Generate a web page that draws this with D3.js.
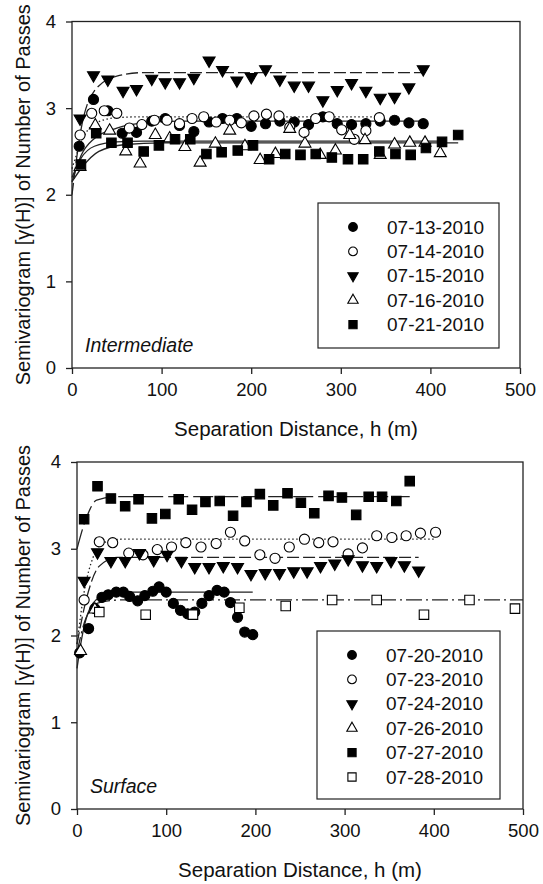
<!doctype html>
<html lang="en">
<head>
  <meta charset="utf-8">
  <title>Semivariograms</title>
  <style>
    body { margin: 0; background: #fff; }
    svg { font-family: "Liberation Sans", Arial, sans-serif; }
    .frame { fill: none; stroke: #222; stroke-width: 1.3; }
    .fit { fill: none; stroke: #222; stroke-width: 1.3; }
    .axis path { display: none; }
    .axis line { stroke: #222; stroke-width: 1.3; }
    .axis text { font-size: 18.5px; fill: #111; }
  </style>
</head>
<body>
  <script src="https://cdn.jsdelivr.net/npm/d3@7"></script>
  <script>

// ---- data: Intermediate panel ----
var xTicks = [0, 100, 200, 300, 400, 500];
var yTicks = [0, 1, 2, 3, 4];

var h_0713 = [8, 24, 40, 56, 72, 89, 104, 120, 136, 153, 168, 184, 200, 216, 232, 248, 264, 280, 296, 312, 328, 344, 360, 376, 392];
var g_0713 = [2.56, 3.10, 2.97, 2.71, 2.72, 2.85, 2.88, 2.80, 2.73, 2.84, 2.88, 2.88, 2.79, 2.82, 2.85, 2.84, 2.81, 2.90, 2.82, 2.81, 2.82, 2.85, 2.86, 2.83, 2.82];

var h_0714 = [9, 22, 36, 50, 64, 78, 92, 106, 120, 134, 147, 161, 176, 189, 203, 217, 231, 243, 259, 272, 287, 301, 315, 328, 343];
var g_0714 = [2.69, 2.94, 2.97, 2.94, 2.77, 2.81, 2.86, 2.86, 2.82, 2.88, 2.90, 2.84, 2.86, 2.83, 2.91, 2.93, 2.91, 2.78, 2.72, 2.88, 2.90, 2.75, 2.64, 2.74, 2.89];

var h_0715 = [9, 24, 40, 57, 72, 89, 104, 120, 136, 153, 168, 184, 200, 216, 232, 248, 264, 280, 296, 312, 328, 344, 360, 376, 392];
var g_0715 = [2.88, 3.38, 3.33, 3.20, 3.22, 3.34, 3.30, 3.30, 3.35, 3.55, 3.44, 3.32, 3.36, 3.45, 3.33, 3.26, 3.26, 3.09, 3.21, 3.29, 3.20, 3.12, 3.13, 3.24, 3.45];

var h_0716 = [9, 26, 42, 60, 76, 93, 109, 126, 143, 160, 176, 193, 210, 227, 243, 260, 277, 294, 310, 327, 344, 360, 377, 394, 411];
var g_0716 = [2.32, 2.80, 2.74, 2.50, 2.36, 2.69, 2.65, 2.55, 2.37, 2.59, 2.74, 2.56, 2.40, 2.47, 2.76, 2.59, 2.46, 2.51, 2.69, 2.63, 2.46, 2.58, 2.60, 2.60, 2.48];

var h_0721 = [10, 27, 44, 62, 80, 97, 115, 132, 150, 167, 185, 202, 220, 238, 255, 272, 290, 308, 325, 343, 361, 378, 395, 413, 431];
var g_0721 = [2.35, 2.71, 2.60, 2.60, 2.50, 2.57, 2.64, 2.64, 2.47, 2.49, 2.51, 2.57, 2.41, 2.47, 2.46, 2.47, 2.43, 2.41, 2.41, 2.50, 2.47, 2.46, 2.54, 2.61, 2.69];

// fitted models as [h, gamma]
var fit_0713 = [[0, 2.15], [10, 2.45], [25, 2.65], [50, 2.77], [80, 2.83], [120, 2.85], [392, 2.85]];
var fit_0714 = [[0, 2.3], [10, 2.6], [25, 2.82], [50, 2.89], [80, 2.9], [343, 2.9]];
var fit_0715 = [[0, 2.0], [10, 2.75], [25, 3.2], [50, 3.37], [80, 3.41], [392, 3.41]];
var fit_0716 = [[0, 2.2], [10, 2.42], [25, 2.56], [50, 2.61], [80, 2.62], [411, 2.62]];
var fit_0721 = [[0, 2.15], [10, 2.3], [30, 2.5], [60, 2.58], [100, 2.6], [431, 2.6]];

// ---- data: Surface panel ----
var h_0720 = [3, 13, 20, 28, 35, 44, 52, 59, 68, 76, 85, 92, 100, 108, 116, 124, 132, 140, 148, 157, 165, 172, 180, 188, 197];
var g_0720 = [1.80, 2.08, 2.31, 2.44, 2.47, 2.50, 2.50, 2.45, 2.40, 2.46, 2.51, 2.56, 2.50, 2.37, 2.29, 2.25, 2.27, 2.37, 2.46, 2.52, 2.50, 2.38, 2.21, 2.04, 2.01];

var h_0723 = [8, 25, 40, 58, 74, 90, 106, 122, 139, 156, 172, 188, 205, 222, 238, 255, 271, 287, 304, 320, 336, 353, 369, 385, 402];
var g_0723 = [2.41, 3.08, 3.07, 2.95, 2.93, 2.99, 3.02, 3.07, 3.02, 3.06, 3.19, 3.09, 2.93, 2.89, 3.02, 3.11, 3.07, 3.08, 2.94, 3.01, 3.15, 3.13, 3.15, 3.18, 3.19];

var h_0724 = [8, 23, 38, 54, 70, 86, 101, 117, 132, 148, 164, 180, 195, 211, 227, 243, 258, 273, 289, 304, 320, 336, 352, 367, 383];
var g_0724 = [2.63, 2.96, 2.86, 2.86, 2.95, 2.87, 2.93, 2.86, 2.79, 2.79, 2.80, 2.79, 2.71, 2.72, 2.72, 2.74, 2.74, 2.80, 2.83, 2.88, 2.81, 2.80, 2.86, 2.81, 2.75];

var h_0726 = [4, 20];
var g_0726 = [1.82, 2.30];

var h_0727 = [8, 23, 38, 54, 69, 84, 99, 114, 129, 144, 160, 175, 190, 205, 220, 236, 251, 266, 282, 297, 313, 327, 342, 358, 373];
var g_0727 = [3.34, 3.72, 3.58, 3.49, 3.57, 3.35, 3.40, 3.57, 3.45, 3.54, 3.55, 3.38, 3.54, 3.63, 3.50, 3.64, 3.53, 3.41, 3.61, 3.59, 3.39, 3.60, 3.60, 3.55, 3.78];

var h_0728 = [25, 77, 130, 182, 234, 286, 336, 389, 440, 491];
var g_0728 = [2.27, 2.24, 2.24, 2.32, 2.34, 2.41, 2.41, 2.24, 2.41, 2.31];

var fit_0720 = [[0, 1.62], [5, 1.95], [12, 2.25], [25, 2.44], [45, 2.5], [197, 2.5]];
var fit_0723 = [[0, 1.9], [8, 2.5], [18, 2.9], [30, 3.07], [50, 3.11], [401, 3.11]];
var fit_0724 = [[0, 1.9], [10, 2.4], [25, 2.8], [45, 2.9], [383, 2.9]];
var fit_0727 = [[0, 3.0], [11, 3.37], [22, 3.56], [45, 3.6], [373, 3.6]];
var fit_0728 = [[0, 1.8], [10, 2.2], [25, 2.38], [50, 2.41], [500, 2.41]];

var yTitle = "Semivariogram [\u03b3(H)] of Number of Passes";
var xTitle = "Separation Distance, h (m)";

// series definitions (style + data refs)
var topSeries = [
  { label: "07-13-2010", h: h_0713, g: g_0713, fit: fit_0713, sym: "circle", fill: true, dash: null },
  { label: "07-14-2010", h: h_0714, g: g_0714, fit: fit_0714, sym: "circle", fill: false, dash: "1.5,2.5" },
  { label: "07-15-2010", h: h_0715, g: g_0715, fit: fit_0715, sym: "down", fill: true, dash: "12,4" },
  { label: "07-16-2010", h: h_0716, g: g_0716, fit: fit_0716, sym: "up", fill: false, dash: null },
  { label: "07-21-2010", h: h_0721, g: g_0721, fit: fit_0721, sym: "square", fill: true, dash: null }
];
var botSeries = [
  { label: "07-20-2010", h: h_0720, g: g_0720, fit: fit_0720, sym: "circle", fill: true, dash: null },
  { label: "07-23-2010", h: h_0723, g: g_0723, fit: fit_0723, sym: "circle", fill: false, dash: "1.5,2.5" },
  { label: "07-24-2010", h: h_0724, g: g_0724, fit: fit_0724, sym: "down", fill: true, dash: "12,4" },
  { label: "07-26-2010", h: h_0726, g: g_0726, fit: null, sym: "up", fill: false, dash: null },
  { label: "07-27-2010", h: h_0727, g: g_0727, fit: fit_0727, sym: "square", fill: true, dash: "20,5" },
  { label: "07-28-2010", h: h_0728, g: g_0728, fit: fit_0728, sym: "square", fill: false, dash: "16,4,2,4" }
];

var svg = d3.select("body").append("svg")
    .attr("width", 543)
    .attr("height", 884);

var symbolPath = function(sym, scale) {
  var s = scale || 1;
  if (sym == "circle") return d3.symbol().type(d3.symbolCircle).size(80 * s)();
  if (sym == "square") return d3.symbol().type(d3.symbolSquare).size(90 * s)();
  return d3.symbol().type(d3.symbolTriangle).size(62 * s)();
};

var drawMarker = function(sel, d, scale) {
  sel.append("path")
    .attr("d", symbolPath(d.sym, scale))
    .attr("transform", d.sym == "down" ? "rotate(180)" : null)
    .attr("fill", d.fill ? "#000" : "#fff")
    .attr("stroke", "#000")
    .attr("stroke-width", 1.1);
};

var panel = function(box, series, tag, legendBox) {
  var x = d3.scaleLinear().domain([0, 500]).range([box.left, box.right]);
  var y = d3.scaleLinear().domain([0, 4]).range([box.bottom, box.top]);
  var g = svg.append("g");

  g.append("rect").attr("class", "frame")
    .attr("x", box.left).attr("y", box.top)
    .attr("width", box.right - box.left).attr("height", box.bottom - box.top);

  g.append("g").attr("class", "axis")
    .attr("transform", "translate(0," + box.bottom + ")")
    .call(d3.axisBottom(x).tickValues(xTicks).tickFormat(d3.format("d")).tickSize(6).tickPadding(9));
  g.append("g").attr("class", "axis")
    .attr("transform", "translate(" + box.left + ",0)")
    .call(d3.axisLeft(y).tickValues(yTicks).tickFormat(d3.format("d")).tickSize(6).tickPadding(10));

  g.append("text")
    .attr("x", (box.left + box.right) / 2).attr("y", box.bottom + 68)
    .attr("text-anchor", "middle").attr("font-size", "20.5px").attr("fill", "#111")
    .text(xTitle);
  g.append("text")
    .attr("transform", "translate(30," + (box.top + box.bottom) / 2 + ") rotate(-90)")
    .attr("text-anchor", "middle").attr("font-size", "20px").attr("fill", "#111")
    .text(yTitle);

  // fitted curves
  var line = d3.line()
    .x(function(p) { return x(p[0]); })
    .y(function(p) { return y(p[1]); })
    .curve(d3.curveMonotoneX);
  series.forEach(function(s) {
    if (!s.fit) return;
    g.append("path").attr("class", "fit")
      .attr("d", line(s.fit))
      .attr("stroke-dasharray", s.dash);
  });

  // points
  series.forEach(function(s) {
    var pts = s.h.map(function(h, i) { return { h: h, v: s.g[i] }; });
    var m = g.append("g").selectAll("g").data(pts).enter().append("g")
      .attr("transform", function(p) { return "translate(" + x(p.h) + "," + y(p.v) + ")"; });
    m.each(function() { drawMarker(d3.select(this), s, 1); });
  });

  g.append("text")
    .attr("x", box.left + 13).attr("y", box.bottom - 16)
    .attr("font-size", "19.5px").attr("font-style", "italic").attr("fill", "#111")
    .text(tag);

  // legend
  var lg = g.append("g");
  lg.append("rect")
    .attr("x", legendBox.x).attr("y", legendBox.y)
    .attr("width", legendBox.w).attr("height", legendBox.h)
    .attr("fill", "#fff").attr("stroke", "#222").attr("stroke-width", 1.2);
  var rows = lg.selectAll("g.row").data(series).enter().append("g")
    .attr("class", "row")
    .attr("transform", function(d, i) { return "translate(0," + (legendBox.y + 24 + i * 24.4) + ")"; });
  rows.append("g").attr("transform", "translate(" + (legendBox.x + 35) + ",0)")
    .each(function(d) { drawMarker(d3.select(this), d, 0.75); });
  rows.append("text")
    .attr("x", legendBox.x + 69).attr("dy", "0.35em")
    .attr("font-size", "19px").attr("fill", "#111")
    .text(function(d) { return d.label; });
};

panel({ left: 72, right: 520, top: 21.5, bottom: 368 }, topSeries, "Intermediate",
      { x: 318, y: 203, w: 181, h: 145 });
panel({ left: 77, right: 523, top: 462, bottom: 809 }, botSeries, "Surface",
      { x: 317, y: 631, w: 183, h: 168 });

  </script>
</body>
</html>
